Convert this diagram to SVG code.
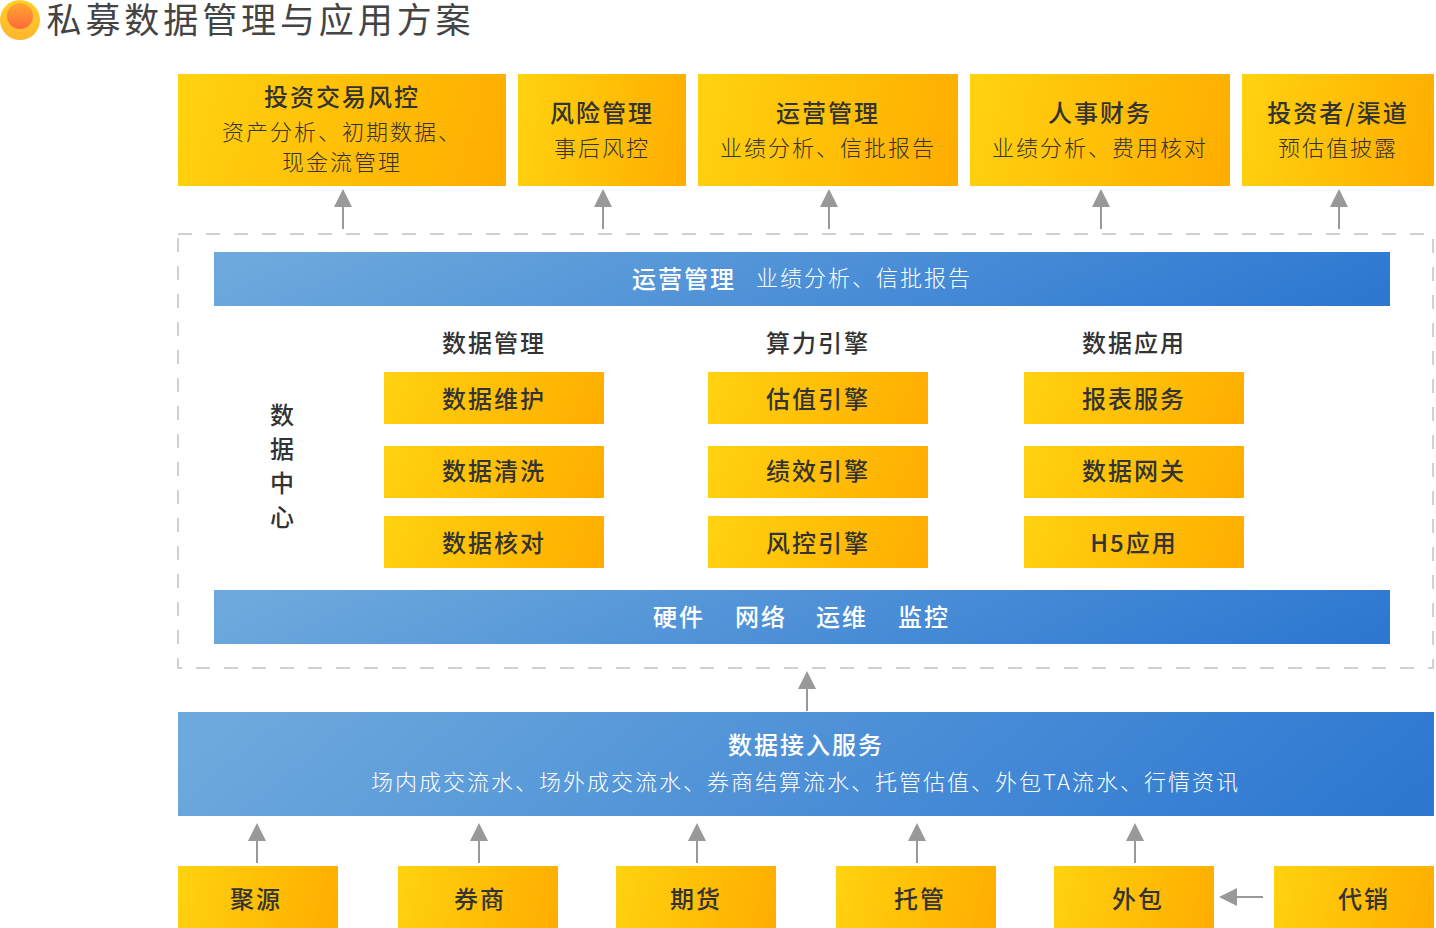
<svg xmlns="http://www.w3.org/2000/svg" width="1436" height="928" viewBox="0 0 1436 928">
<style>
text{font-family:"Noto Sans CJK SC","Liberation Sans",sans-serif;text-anchor:middle}
.y{fill:url(#gy)}.b{fill:url(#gb)}
.h{font-size:24px;font-weight:500;letter-spacing:2px;fill:#333}
.s{font-size:22px;font-weight:300;letter-spacing:2px;fill:#333}
.hw{font-size:24px;font-weight:500;letter-spacing:2px;fill:#fff}
.sw{font-size:22px;font-weight:300;letter-spacing:2px;fill:#fff}
.c{stroke:#999;stroke-width:2;fill:none;marker-end:url(#a)}
</style>
<defs>
<linearGradient id="gy" x1="0" y1="0.45" x2="1" y2="0.55"><stop offset="0" stop-color="#FFD10F"/><stop offset="1" stop-color="#FFAE00"/></linearGradient>
<linearGradient id="gb" x1="0" y1="0.45" x2="1" y2="0.55"><stop offset="0" stop-color="#6DA9DC"/><stop offset="1" stop-color="#2E78D2"/></linearGradient>
<linearGradient id="go" x1="0" y1="0" x2="0" y2="1"><stop offset="0" stop-color="#FFD026"/><stop offset="1" stop-color="#FFB52E"/></linearGradient>
<linearGradient id="gi" x1="0" y1="0" x2="0" y2="1"><stop offset="0" stop-color="#FFA72E"/><stop offset="1" stop-color="#FF6A3D"/></linearGradient>
<marker id="a" markerUnits="userSpaceOnUse" markerWidth="18" markerHeight="18" refX="0" refY="9" orient="auto"><path d="M0 0L18 9L0 18Z" fill="#999"/></marker>
</defs>
<g id="title"><circle cx="20" cy="20" r="20" fill="url(#go)"/><circle cx="20" cy="16" r="13" fill="url(#gi)"/><text x="260.5" y="33" font-size="35" font-weight="400" letter-spacing="3.9" fill="#444">私募数据管理与应用方案</text></g>
<g id="connectors">
<path class="c" d="M343 229V207"/><path class="c" d="M603 229V207"/><path class="c" d="M829 229V207"/><path class="c" d="M1101 229V207"/><path class="c" d="M1339 229V207"/>
<path class="c" d="M807 711V689"/>
<path class="c" d="M257 863V841"/><path class="c" d="M479 863V841"/><path class="c" d="M697 863V841"/><path class="c" d="M917 863V841"/><path class="c" d="M1135 863V841"/>
<path class="c" d="M1263 897H1237"/>
</g>
<g id="top1"><rect class="y" x="178" y="74" width="328" height="112"/><text class="h" x="342" y="106">投资交易风控</text><text class="s" x="342" y="140">资产分析、初期数据、</text><text class="s" x="342" y="170">现金流管理</text></g>
<g id="top2"><rect class="y" x="518" y="74" width="168" height="112"/><text class="h" x="602" y="122">风险管理</text><text class="s" x="602" y="156">事后风控</text></g>
<g id="top3"><rect class="y" x="698" y="74" width="260" height="112"/><text class="h" x="828" y="122">运营管理</text><text class="s" x="828" y="156">业绩分析、信批报告</text></g>
<g id="top4"><rect class="y" x="970" y="74" width="260" height="112"/><text class="h" x="1100" y="122">人事财务</text><text class="s" x="1100" y="156">业绩分析、费用核对</text></g>
<g id="top5"><rect class="y" x="1242" y="74" width="192" height="112"/><text class="h" x="1338" y="122">投资者/渠道</text><text class="s" x="1338" y="156">预估值披露</text></g>
<g id="datacenter"><rect x="178" y="234" width="1255" height="434" fill="none" stroke="#d0d0d0" stroke-width="2" stroke-dasharray="14 14"/></g>
<g id="ops"><rect class="b" x="214" y="252" width="1176" height="54"/><text class="hw" x="684" y="288">运营管理</text><text class="sw" x="864" y="286">业绩分析、信批报告</text></g>
<g id="dc-label"><text class="h" x="283" y="424">数</text><text class="h" x="283" y="458">据</text><text class="h" x="283" y="492">中</text><text class="h" x="283" y="526">心</text></g>
<g id="hd1"><text class="h" x="494" y="352">数据管理</text></g>
<g id="hd2"><text class="h" x="818" y="352">算力引擎</text></g>
<g id="hd3"><text class="h" x="1134" y="352">数据应用</text></g>
<g id="n11"><rect class="y" x="384" y="372" width="220" height="52"/><text class="h" x="494" y="408">数据维护</text></g>
<g id="n12"><rect class="y" x="384" y="446" width="220" height="52"/><text class="h" x="494" y="480">数据清洗</text></g>
<g id="n13"><rect class="y" x="384" y="516" width="220" height="52"/><text class="h" x="494" y="552">数据核对</text></g>
<g id="n21"><rect class="y" x="708" y="372" width="220" height="52"/><text class="h" x="818" y="408">估值引擎</text></g>
<g id="n22"><rect class="y" x="708" y="446" width="220" height="52"/><text class="h" x="818" y="480">绩效引擎</text></g>
<g id="n23"><rect class="y" x="708" y="516" width="220" height="52"/><text class="h" x="818" y="552">风控引擎</text></g>
<g id="n31"><rect class="y" x="1024" y="372" width="220" height="52"/><text class="h" x="1134" y="408">报表服务</text></g>
<g id="n32"><rect class="y" x="1024" y="446" width="220" height="52"/><text class="h" x="1134" y="480">数据网关</text></g>
<g id="n33"><rect class="y" x="1024" y="516" width="220" height="52"/><text class="h" x="1134" y="552">H5应用</text></g>
<g id="infra"><rect class="b" x="214" y="590" width="1176" height="54"/><text class="hw" x="679" y="626">硬件</text><text class="hw" x="761" y="626">网络</text><text class="hw" x="842" y="626">运维</text><text class="hw" x="924" y="626">监控</text></g>
<g id="ingest"><rect class="b" x="178" y="712" width="1256" height="104"/><text class="hw" x="806" y="754">数据接入服务</text><text class="sw" x="805.500" y="790">场内成交流水、场外成交流水、券商结算流水、托管估值、外包TA流水、行情资讯</text></g>
<g id="b1"><rect class="y" x="178" y="866" width="160" height="62"/><text class="h" x="256" y="908">聚源</text></g>
<g id="b2"><rect class="y" x="398" y="866" width="160" height="62"/><text class="h" x="480" y="908">券商</text></g>
<g id="b3"><rect class="y" x="616" y="866" width="160" height="62"/><text class="h" x="696" y="908">期货</text></g>
<g id="b4"><rect class="y" x="836" y="866" width="160" height="62"/><text class="h" x="920" y="908">托管</text></g>
<g id="b5"><rect class="y" x="1054" y="866" width="160" height="62"/><text class="h" x="1138" y="908">外包</text></g>
<g id="b6"><rect class="y" x="1274" y="866" width="160" height="62"/><text class="h" x="1364" y="908">代销</text></g>
</svg>
